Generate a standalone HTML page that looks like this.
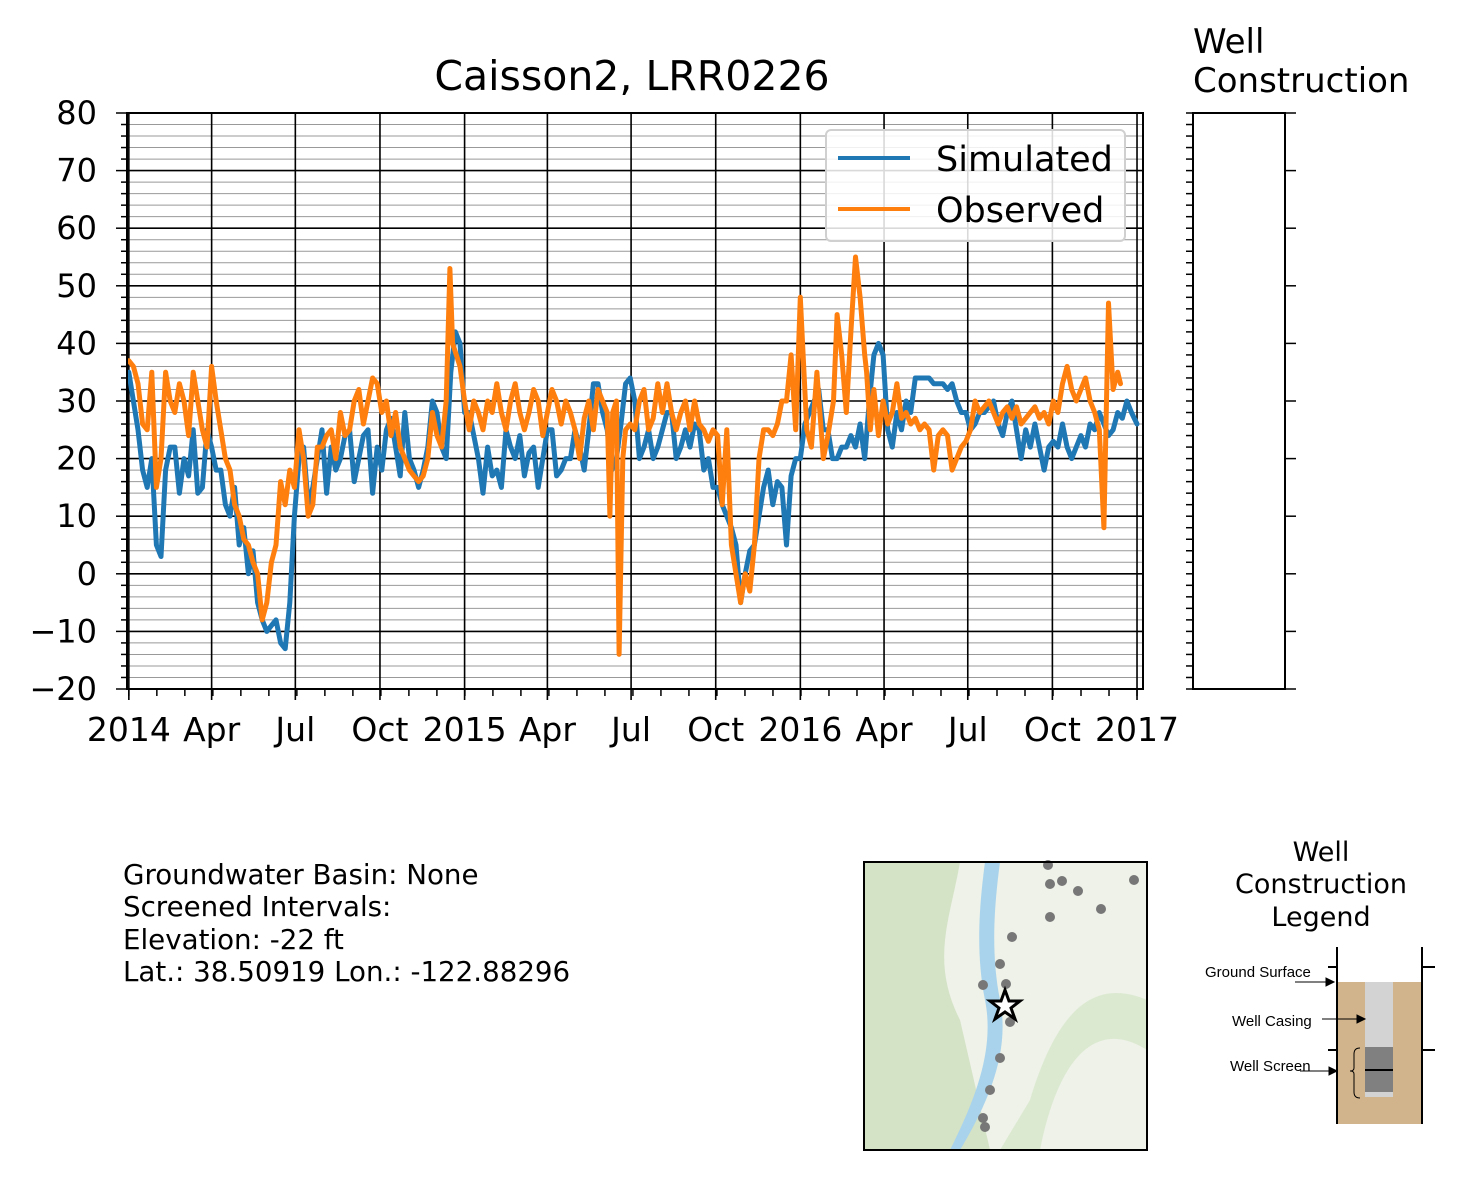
<!DOCTYPE html>
<html><head><meta charset="utf-8"><style>
body{margin:0;background:#fff;}
svg text{font-family:"DejaVu Sans","Liberation Sans",sans-serif;}
</style></head><body>
<svg id="c" width="1468" height="1175" xmlns="http://www.w3.org/2000/svg">
<rect width="1468" height="1175" fill="#fff"/>
<g id="grid"></g>
<g id="series"></g>
<rect x="127" y="113" width="1016" height="576" fill="none" stroke="#000" stroke-width="2"/>
<g id="axes"></g>
<text x="632" y="90" font-size="41" text-anchor="middle">Caisson2, LRR0226</text>
<g>
<rect x="826" y="130" width="299" height="111" rx="5" fill="#fff" fill-opacity="0.85" stroke="#d0d0d0" stroke-width="2"/>
<line x1="838" y1="158" x2="910" y2="158" stroke="#1f77b4" stroke-width="4"/>
<text x="936" y="171" font-size="35">Simulated</text>
<line x1="838" y1="209" x2="910" y2="209" stroke="#ff7f0e" stroke-width="4"/>
<text x="936" y="222" font-size="35">Observed</text>
</g>
<g>
<text x="1193" y="53" font-size="34">Well</text>
<text x="1193" y="92" font-size="34">Construction</text>
<rect x="1193" y="113" width="92" height="576" fill="none" stroke="#000" stroke-width="2"/>
<g id="wellticks"></g>
</g>
<g font-size="27.7">
<text x="123" y="884">Groundwater Basin: None</text>
<text x="123" y="916">Screened Intervals:</text>
<text x="123" y="949">Elevation: -22 ft</text>
<text x="123" y="981">Lat.: 38.50919 Lon.: -122.88296</text>
</g>
<g>
<rect x="864" y="862" width="283" height="288" fill="#eef2e8"/>
<path d="M864 862 L960 862 C950 920 930 960 960 1020 L990 1150 L864 1150 Z" fill="#c9dcb8" opacity="0.7"/>
<path d="M1020 862 L1147 862 L1147 1000 C1100 980 1060 1000 1030 1100 L1000 1150 L1040 1150 C1060 1050 1100 1020 1147 1050 L1147 862" fill="#d1e2c2" opacity="0.6"/>
<path d="M985 862 L1000 862 C995 900 990 950 1000 1000 C1010 1050 990 1100 960 1150 L950 1150 C975 1100 995 1050 985 1000 C975 950 980 900 985 862 Z" fill="#a9d3ec"/>
<g fill="#777">
<circle cx="1048" cy="865" r="5"/><circle cx="1050" cy="884" r="5"/><circle cx="1062" cy="881" r="5"/><circle cx="1078" cy="891" r="5"/><circle cx="1134" cy="880" r="5"/><circle cx="1101" cy="909" r="5"/><circle cx="1050" cy="917" r="5"/><circle cx="1012" cy="937" r="5"/><circle cx="1000" cy="964" r="5"/><circle cx="983" cy="985" r="5"/><circle cx="1006" cy="984" r="5"/><circle cx="1010" cy="1022" r="5"/><circle cx="1000" cy="1058" r="5"/><circle cx="990" cy="1090" r="5"/><circle cx="983" cy="1118" r="5"/><circle cx="985" cy="1127" r="5"/>
</g>
<polygon points="1005,990 1009,1001 1020,1001 1011,1008 1015,1019 1005,1012 995,1019 999,1008 990,1001 1001,1001" fill="#fff" stroke="#000" stroke-width="3"/>
<rect x="864" y="862" width="283" height="288" fill="none" stroke="#000" stroke-width="2"/>
</g>
<g>
<text x="1321" y="861" font-size="27" text-anchor="middle">Well</text>
<text x="1321" y="893" font-size="27" text-anchor="middle">Construction</text>
<text x="1321" y="926" font-size="27" text-anchor="middle">Legend</text>
<rect x="1337" y="982" width="85" height="142" fill="#d2b48c"/>
<rect x="1365" y="982" width="28" height="65" fill="#d3d3d3"/>
<rect x="1365" y="1047" width="28" height="45" fill="#808080"/>
<rect x="1365" y="1092" width="28" height="5" fill="#d3d3d3"/>
<line x1="1365" y1="1070" x2="1393" y2="1070" stroke="#000" stroke-width="2"/>
<line x1="1337" y1="947" x2="1337" y2="1124" stroke="#000" stroke-width="2"/>
<line x1="1422" y1="947" x2="1422" y2="1124" stroke="#000" stroke-width="2"/>
<line x1="1328" y1="967" x2="1337" y2="967" stroke="#000" stroke-width="2"/>
<line x1="1328" y1="1050" x2="1337" y2="1050" stroke="#000" stroke-width="2"/>
<line x1="1422" y1="967" x2="1435" y2="967" stroke="#000" stroke-width="2"/>
<line x1="1422" y1="1050" x2="1435" y2="1050" stroke="#000" stroke-width="2"/>
<path d="M1360 1048 q-6 0 -6 6 v14 q0 3 -4 3 q4 0 4 3 v18 q0 6 6 6" fill="none" stroke="#000" stroke-width="1"/>
<g font-size="15" font-family="Liberation Sans, sans-serif">
<text x="1205" y="977" style="font-family:'Liberation Sans',sans-serif">Ground Surface</text>
<text x="1232" y="1026" style="font-family:'Liberation Sans',sans-serif">Well Casing</text>
<text x="1230" y="1071" style="font-family:'Liberation Sans',sans-serif">Well Screen</text>
</g>
<g stroke="#000" stroke-width="1" fill="#000">
<line x1="1295" y1="982" x2="1328" y2="982"/><polygon points="1334,982 1326,978 1326,986"/>
<line x1="1322" y1="1019" x2="1358" y2="1019"/><polygon points="1365,1019 1357,1015 1357,1023"/>
<line x1="1300" y1="1071" x2="1330" y2="1071"/><polygon points="1337,1071 1329,1067 1329,1075"/>
</g>
</g>
</svg>
<script>
const yTicks=[-20,-10,0,10,20,30,40,50,60,70,80];
const xTickDays=[0,90,181,273,365,455,546,638,730,821,912,1004,1096];
const xTickLabels=["2014","Apr","Jul","Oct","2015","Apr","Jul","Oct","2016","Apr","Jul","Oct","2017"];
const simDays=[0,5,10,15,20,25,30,35,40,45,50,55,60,65,70,75,80,85,90,95,100,105,110,115,120,125,130,135,140,145,150,155,160,165,170,175,180,185,190,195,200,205,210,215,220,225,230,235,240,245,250,255,260,265,270,275,280,285,290,295,300,305,310,315,320,325,330,335,340,345,350,355,360,365,370,375,380,385,390,395,400,405,410,415,420,425,430,435,440,445,450,455,460,465,470,475,480,485,490,495,500,505,510,515,520,525,530,535,540,545,550,555,560,565,570,575,580,585,590,595,600,605,610,615,620,625,630,635,640,645,650,655,660,665,670,675,680,685,690,695,700,705,710,715,720,725,730,735,740,745,750,755,760,765,770,775,780,785,790,795,800,805,810,815,820,825,830,835,840,845,850,855,860,865,870,875,880,885,890,895,900,905,910,915,920,925,930,935,940,945,950,955,960,965,970,975,980,985,990,995,1000,1005,1010,1015,1020,1025,1030,1035,1040,1045,1050,1055,1060,1065,1070,1075,1080,1085,1090,1096];
const simVals=[35,30,25,18,15,20,5,3,18,22,22,14,20,17,25,14,15,25,22,18,18,12,10,15,5,8,0,4,-5,-8,-10,-9,-8,-12,-13,-5,10,20,22,12,15,20,25,14,22,18,20,24,25,16,20,24,25,14,22,18,25,27,22,17,28,20,18,15,18,22,30,28,22,20,35,42,40,28,28,24,20,14,22,17,18,15,25,22,20,24,17,21,22,15,20,25,25,17,18,20,20,25,22,18,25,33,33,28,25,18,20,26,33,34,30,20,22,25,20,22,25,28,28,20,22,25,22,26,25,18,20,15,15,12,10,8,5,-5,0,4,5,10,15,18,12,16,15,5,17,20,20,26,28,30,32,25,25,20,20,22,22,24,22,26,20,30,38,40,38,25,22,28,25,30,28,34,34,34,34,33,33,33,32,33,30,28,28,25,26,28,28,29,30,26,24,28,30,25,20,25,22,26,22,18,22,23,22,26,22,20,22,24,22,26,25,28,26,24,25,28,27,30,28,26,28,25,26,33,35,30];
const obsDays=[0,5,10,15,20,25,30,35,40,45,50,55,60,65,70,75,80,85,90,95,100,105,110,115,120,125,130,135,140,145,150,155,160,165,170,175,180,185,190,195,200,205,210,215,220,225,230,235,240,245,250,255,260,265,270,275,280,285,290,295,300,305,310,315,320,325,330,335,340,345,349,352,356,360,365,370,375,380,385,390,395,400,405,410,415,420,425,430,435,440,445,450,455,460,465,470,475,480,485,490,495,500,505,510,515,520,523,526,530,533,537,540,545,550,555,560,565,570,575,580,585,590,595,600,605,610,615,620,625,630,635,640,645,650,655,660,665,670,675,680,685,690,695,700,705,710,715,720,725,730,737,742,748,755,760,766,770,775,780,785,790,795,800,802,806,810,815,820,825,830,835,840,845,850,855,860,865,870,875,880,885,890,895,900,905,910,915,920,925,930,935,940,945,950,955,960,965,970,975,980,985,990,995,1000,1005,1010,1015,1020,1025,1030,1035,1040,1045,1050,1055,1060,1065,1070,1075,1078,1082,1086,1090,1096];
const obsVals=[37,36,33,26,25,35,15,20,35,30,28,33,30,24,35,30,25,22,36,30,25,20,18,12,10,6,5,2,0,-8,-5,2,5,16,12,18,15,25,20,10,12,22,22,24,25,20,28,24,25,30,32,26,30,34,33,28,30,24,28,22,20,18,17,16,17,20,28,24,22,30,53,40,38,36,30,25,30,28,25,30,28,33,28,25,30,33,28,25,28,32,30,24,28,32,30,26,30,28,25,20,27,30,25,32,30,28,10,28,30,-14,20,25,26,25,30,32,25,27,33,28,33,28,25,28,30,25,30,26,25,23,25,24,12,25,5,0,-5,0,-3,5,20,25,25,24,26,30,30,38,25,48,25,22,35,20,24,30,45,38,28,42,55,48,38,35,25,32,24,30,26,28,33,27,28,26,27,25,26,25,18,24,25,24,18,20,22,23,25,30,28,29,30,28,26,28,29,27,29,26,27,28,29,27,28,26,30,28,33,36,32,30,32,34,30,28,25,8,47,32,35,33];
const NS="http://www.w3.org/2000/svg";
const X0=127,X1=1143,Y0=113,Y1=689,dMin=-2,dMax=1102.5,vMin=-20,vMax=80;
function xs(d){return X0+(d-dMin)/(dMax-dMin)*(X1-X0);}
function ys(v){return Y1-(v-vMin)/(vMax-vMin)*(Y1-Y0);}
function mk(tag,attrs,parent){const e=document.createElementNS(NS,tag);for(const k in attrs)e.setAttribute(k,attrs[k]);parent.appendChild(e);return e;}
const grid=document.getElementById('grid'),axes=document.getElementById('axes'),ser=document.getElementById('series'),wt=document.getElementById('wellticks');
for(let v=vMin;v<=vMax;v+=2){
  const major=(v%10===0);
  const l=mk('line',{x1:X0,x2:X1,y1:ys(v),y2:ys(v),stroke:major?'#000':'#999','stroke-width':major?1.6:1},grid);
  
  
  const t=mk('line',{x1:X0-(major?11:6),x2:X0,y1:ys(v),y2:ys(v),stroke:'#000','stroke-width':1.5},axes);
  
  
  const w=mk('line',{x1:1186,x2:1193,y1:ys(v),y2:ys(v),stroke:'#000','stroke-width':1.5},wt);
  
  
  if(major){const w2=mk('line',{x1:1285,x2:1296,y1:ys(v),y2:ys(v),stroke:'#000','stroke-width':1.5},wt);
  
  }
}
yTicks.forEach(v=>{const t=mk('text',{x:97,y:ys(v)+11,'font-size':32,'text-anchor':'end'},axes);t.textContent=String(v).replace('-','\u2212');
  
  });
for(let m=0;m<=36;m++){const d=m*1096/36;const t=mk('line',{x1:xs(d),x2:xs(d),y1:Y1,y2:Y1+7,stroke:'#000','stroke-width':1.5},axes);
  
  }
xTickDays.forEach((d,i)=>{
  const l=mk('line',{x1:xs(d),x2:xs(d),y1:Y0,y2:Y1+11,stroke:'#000','stroke-width':1.6},grid);
  
  
  const t=mk('text',{x:xs(d),y:741,'font-size':33,'text-anchor':'middle'},axes);t.textContent=xTickLabels[i];
  
  
});
function line(days,vals,color,name){let p='';days.forEach((d,i)=>{p+=(i?'L':'M')+xs(d).toFixed(1)+' '+ys(vals[i]).toFixed(1);});
  const e=mk('path',{d:p,fill:'none',stroke:color,'stroke-width':5,'stroke-linejoin':'round','stroke-linecap':'round'},ser);
  
  }
line(simDays,simVals,'#1f77b4','simulated-line');
line(obsDays,obsVals,'#ff7f0e','observed-line');
</script>
</body></html>
